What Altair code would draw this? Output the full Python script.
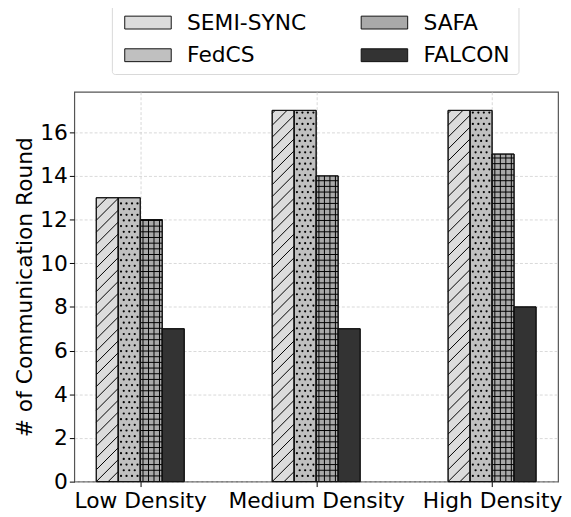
import altair as alt
import pandas as pd

categories = ["Low Density", "Medium Density", "High Density"]
series = ["SEMI-SYNC", "FedCS", "SAFA", "FALCON"]
semi_sync = [13, 17, 17]
fedcs = [13, 17, 17]
safa = [12, 14, 15]
falcon = [7, 7, 8]

rows = []
for si, (s, vals) in enumerate(zip(series, [semi_sync, fedcs, safa, falcon])):
    for ci, (c, v) in enumerate(zip(categories, vals)):
        rows.append({"category": c, "ci": ci, "series": s, "si": si, "value": v})
df = pd.DataFrame(rows)

colors = {"SEMI-SYNC": "#dcdcdc", "FedCS": "#c0c0c0", "SAFA": "#a9a9a9", "FALCON": "#333333"}
FONT = "DejaVu Sans"

BW = 0.125          # bar width in category units
DY = 0.26           # fine hatch spacing (y units)
DX = BW / 4         # fine hatch spacing (x units)
DIAG = 0.544        # diagonal hatch spacing (y units)
D45 = 1.007         # y rise across one bar width at 45 degrees

xscale = alt.Scale(domain=[-0.375, 2.375], nice=False, zero=False, padding=0)
yscale = alt.Scale(domain=[0, 17.85], nice=False, padding=0)

base = alt.Chart(df).transform_calculate(
    x0=f"datum.ci + (datum.si - 2) * {BW}",
    x1=f"datum.ci + (datum.si - 1) * {BW}",
    zero="0",
)

grid_kw = dict(grid=True, gridColor="#cfcfcf", gridDash=[3, 2], gridWidth=0.8)

bars = base.mark_bar(stroke="#111111", strokeWidth=1, orient="vertical").encode(
    x=alt.X(
        "x0:Q",
        scale=xscale,
        axis=alt.Axis(
            title=None,
            values=[0, 1, 2],
            labelExpr="['Low Density','Medium Density','High Density'][datum.value]",
            labelFontSize=22,
            labelFont=FONT,
            labelColor="black",
            labelPadding=4,
            labelFlush=False,
            tickColor="black",
            tickSize=5,
            domain=False,
            **grid_kw,
        ),
    ),
    x2="x1:Q",
    y=alt.Y(
        "value:Q",
        scale=yscale,
        axis=alt.Axis(
            title="# of Communication Round",
            titleFontSize=22,
            titleFont=FONT,
            titleFontWeight="normal",
            titleColor="black",
            titlePadding=3,
            values=[0, 2, 4, 6, 8, 10, 12, 14, 16],
            labelFontSize=22,
            labelFont=FONT,
            labelColor="black",
            labelPadding=2,
            tickColor="black",
            tickSize=5,
            domain=False,
            **grid_kw,
        ),
    ),
    y2="zero:Q",
    fill=alt.Fill(
        "series:N",
        sort=series,
        scale=alt.Scale(domain=series, range=[colors[s] for s in series]),
        legend=alt.Legend(
            title=None,
            orient="none",
            legendX=38,
            legendY=-89,
            columns=2,
            columnPadding=50,
            rowPadding=11,
            padding=8,
            labelFontSize=22,
            labelFont=FONT,
            labelColor="black",
            labelOffset=46,
            symbolType="M-1,-1.083H6.833V1.083H-1Z",
            symbolSize=144,
            symbolStrokeColor="#111111",
            symbolStrokeWidth=1,
            symbolOpacity=1,
            strokeColor="#d9d9d9",
            fillColor="white",
            cornerRadius=3,
        ),
    ),
)

# SAFA: grid hatch (vertical + horizontal lines)
safa_v = (
    base.transform_filter("datum.series == 'SAFA'")
    .transform_calculate(ks="[0.5, 1.5, 2.5, 3.5]")
    .transform_flatten(["ks"], as_=["k"])
    .transform_calculate(xv=f"datum.x0 + datum.k * {DX}")
    .mark_rule(color="black", strokeWidth=1)
    .encode(x=alt.X("xv:Q", scale=xscale), y=alt.Y("zero:Q", scale=yscale), y2="value:Q")
)
safa_h = (
    base.transform_filter("datum.series == 'SAFA'")
    .transform_calculate(ys=f"sequence({DY}, datum.value, {DY})")
    .transform_flatten(["ys"], as_=["yv"])
    .mark_rule(color="black", strokeWidth=1)
    .encode(x=alt.X("x0:Q", scale=xscale), x2="x1:Q", y=alt.Y("yv:Q", scale=yscale))
)

# FedCS: staggered dots
fed_dots = (
    base.transform_filter("datum.series == 'FedCS'")
    .transform_calculate(rs=f"sequence(1, ceil(datum.value / {DY}))")
    .transform_flatten(["rs"], as_=["r"])
    .transform_calculate(cs="datum.r % 2 == 0 ? [1, 2, 3] : [0.5, 1.5, 2.5, 3.5]")
    .transform_flatten(["cs"], as_=["c"])
    .transform_calculate(xd=f"datum.x0 + datum.c * {DX}", yd=f"datum.r * {DY}")
    .mark_circle(color="black", size=5, opacity=1)
    .encode(x=alt.X("xd:Q", scale=xscale), y=alt.Y("yd:Q", scale=yscale))
)

# SEMI-SYNC: diagonal hatch, clipped to the bar
semi_diag = (
    base.transform_filter("datum.series == 'SEMI-SYNC'")
    .transform_calculate(ks=f"sequence(-2, ceil(datum.value / {DIAG}) + 1)")
    .transform_flatten(["ks"], as_=["k"])
    .transform_calculate(yl=f"datum.k * {DIAG}")
    .transform_filter(f"datum.yl < datum.value && datum.yl + {D45} > 0")
    .transform_calculate(
        ys="max(0, datum.yl)",
        xs=f"datum.x0 + (max(0, datum.yl) - datum.yl) / {D45} * {BW}",
        ye=f"min(datum.value, datum.yl + {D45})",
        xe=f"datum.x0 + (min(datum.value, datum.yl + {D45}) - datum.yl) / {D45} * {BW}",
    )
    .mark_rule(color="black", strokeWidth=1)
    .encode(
        x=alt.X("xs:Q", scale=xscale),
        x2="xe:Q",
        y=alt.Y("ys:Q", scale=yscale),
        y2="ye:Q",
    )
)

outline = base.mark_bar(fillOpacity=0, stroke="#111111", strokeWidth=1, orient="vertical").encode(
    x=alt.X("x0:Q", scale=xscale), x2="x1:Q", y=alt.Y("value:Q", scale=yscale), y2="zero:Q"
)

chart = (
    alt.layer(bars, semi_diag, fed_dots, safa_v, safa_h, outline)
    .properties(
        width=489,
        height=394,
        autosize=alt.AutoSizeParams(type="none"),
        padding={"left": 67, "top": 82, "right": 5, "bottom": 30},
    )
    .configure_view(stroke="#555555", strokeWidth=1.2)
)

chart.save("out.html", embed_options={"renderer": "svg", "actions": False})
